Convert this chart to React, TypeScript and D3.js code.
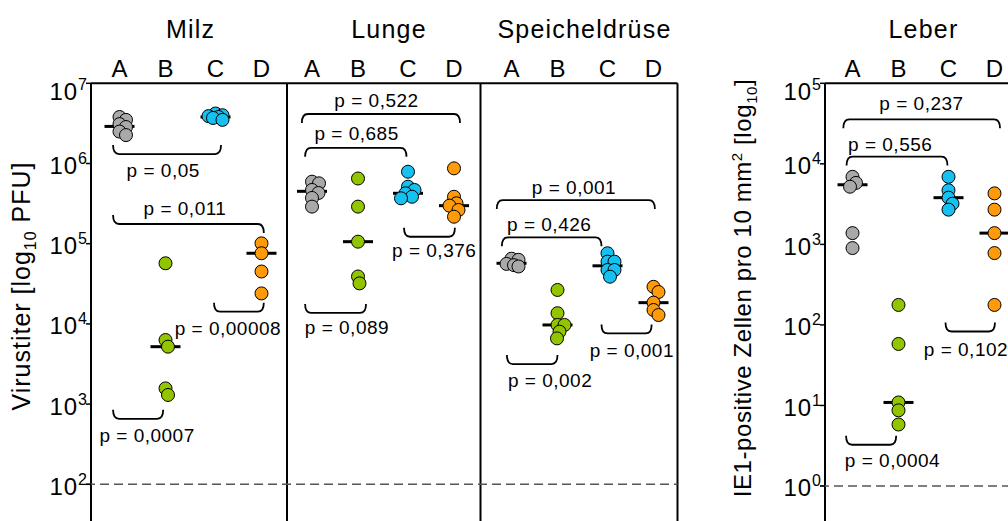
import React from "react";
import * as d3 from "d3";

const categories = ["A", "B", "C", "D"];
const groupColors = ["#a9a9a9", "#92c500", "#16c0f0", "#ff9b0a"];

const leftTicks = [1e2, 1e3, 1e4, 1e5, 1e6, 1e7];
const rightTicks = [1e0, 1e1, 1e2, 1e3, 1e4, 1e5];

// Milz (PFU)
const milzA = [3.8e6, 3.5e6, 3.1e6, 2.85e6, 2.5e6, 2.26e6];
const milzB = [5.7e4, 6.3e3, 5.2e3, 1.57e3, 1.3e3];
const milzC = [4.2e6, 4.0e6, 3.9e6, 3.8e6, 3.7e6, 3.5e6];
const milzD = [1.01e5, 7.6e4, 4.5e4, 2.4e4];
const milzMedians = [2.9e6, 5.2e3, 3.8e6, 7.6e4];

// Lunge
const lungeA = [5.93e5, 5.66e5, 4.68e5, 4.29e5, 3.72e5, 2.9e5];
const lungeB = [6.5e5, 2.9e5, 1.06e5, 3.9e4, 3.2e4];
const lungeC = [7.9e5, 5.14e5, 4.68e5, 4.25e5, 3.85e5, 3.68e5];
const lungeD = [8.7e5, 3.85e5, 3.19e5, 2.98e5, 2.63e5, 2.17e5];
const lungeMedians = [4.5e5, 1.06e5, 4.25e5, 2.98e5];

// Speicheldrüse
const speichelA = [6.5e4, 6.3e4, 5.6e4, 5.4e4, 5.2e4];
const speichelB = [2.65e4, 1.36e4, 9.7e3, 9.7e3, 8.0e3, 6.6e3];
const speichelC = [7.6e4, 5.97e4, 5.97e4, 4.7e4, 4.7e4, 3.88e4];
const speichelD = [2.9e4, 2.5e4, 1.84e4, 1.49e4, 1.29e4];
const speichelMedians = [5.7e4, 9.7e3, 5.3e4, 1.84e4];

// Leber (IE1-positive cells)
const leberA = [6.9e3, 5.8e3, 5.2e3, 1.38e3, 900];
const leberB = [177, 58, 10.9, 8.7, 5.8];
const leberC = [6.9e3, 4.7e3, 3.8e3, 3.2e3, 2.7e3];
const leberD = [4.3e3, 2.7e3, 1.38e3, 780, 177];
const leberMedians = [5.5e3, 10.9, 3.8e3, 1.38e3];

// Brackets: x1/x2/lx in category-index units, bar/ly in data units
type Bracket = { x1: number; x2: number; bar: number; l: "up" | "down"; r: "up" | "down"; label: string; lx: number; ly: number };

const milzBrackets: Bracket[] = [
  { x1: -0.14, x2: 2.12, bar: 1.31e6, l: "up", r: "up", label: "p = 0,05", lx: 0.95, ly: 8.3e5 },
  { x1: -0.14, x2: 3.05, bar: 1.76e5, l: "up", r: "down", label: "p = 0,011", lx: 1.39, ly: 2.79e5 },
  { x1: -0.14, x2: 0.95, bar: 655, l: "up", r: "up", label: "p = 0,0007", lx: 0.6, ly: 412 },
  { x1: 1.97, x2: 3.05, bar: 1.42e4, l: "up", r: "up", label: "p = 0,00008", lx: 2.27, ly: 8.9e3 },
];
const lungeBrackets: Bracket[] = [
  { x1: -0.22, x2: 3.13, bar: 4.14e6, l: "down", r: "down", label: "p = 0,522", lx: 1.37, ly: 6.2e6 },
  { x1: -0.15, x2: 1.97, bar: 1.57e6, l: "down", r: "down", label: "p = 0,685", lx: 0.97, ly: 2.38e6 },
  { x1: 1.92, x2: 3.02, bar: 1.22e5, l: "up", r: "up", label: "p = 0,376", lx: 2.57, ly: 8.3e4 },
  { x1: -0.15, x2: 1.16, bar: 1.37e4, l: "up", r: "up", label: "p = 0,089", lx: 0.76, ly: 9.1e3 },
];
const speichelBrackets: Bracket[] = [
  { x1: -0.32, x2: 3.03, bar: 3.5e5, l: "down", r: "down", label: "p = 0,001", lx: 1.33, ly: 5.1e5 },
  { x1: -0.21, x2: 1.88, bar: 1.2e5, l: "down", r: "down", label: "p = 0,426", lx: 0.82, ly: 1.76e5 },
  { x1: -0.1, x2: 1.0, bar: 3.16e3, l: "up", r: "up", label: "p = 0,002", lx: 0.84, ly: 2.0e3 },
  { x1: 1.88, x2: 2.96, bar: 7.6e3, l: "up", r: "up", label: "p = 0,001", lx: 2.53, ly: 4.7e3 },
];
const leberBrackets: Bracket[] = [
  { x1: -0.2, x2: 3.12, bar: 3.57e4, l: "down", r: "down", label: "p = 0,237", lx: 1.46, ly: 5.65e4 },
  { x1: -0.13, x2: 1.98, bar: 1.23e4, l: "down", r: "down", label: "p = 0,556", lx: 0.82, ly: 1.75e4 },
  { x1: -0.14, x2: 0.95, bar: 3.25, l: "up", r: "up", label: "p = 0,0004", lx: 0.87, ly: 2.06 },
  { x1: 1.94, x2: 3.01, bar: 82.8, l: "up", r: "up", label: "p = 0,102", lx: 2.38, ly: 49.1 },
];

const panels = [
  { title: "Milz", side: "left", groups: [milzA, milzB, milzC, milzD], medians: milzMedians, brackets: milzBrackets },
  { title: "Lunge", side: "left", groups: [lungeA, lungeB, lungeC, lungeD], medians: lungeMedians, brackets: lungeBrackets },
  { title: "Speicheldrüse", side: "left", groups: [speichelA, speichelB, speichelC, speichelD], medians: speichelMedians, brackets: speichelBrackets },
  { title: "Leber", side: "right", groups: [leberA, leberB, leberC, leberD], medians: leberMedians, brackets: leberBrackets },
];

// layout
const W = 1008, H = 521;
const TOP = 83.3;
const FONT = "'Liberation Sans', Arial, Helvetica, sans-serif";
const panelEdges = [91, 287, 480.5, 677.5];
const rightAxisX = 825;
const panelA = [119.5, 312, 511.5, 852.5];
const catOffsets = [0, 46, 96, 142];
const titleNudge = [0, 6, 2, 0];
const R = 6.5;

const yLeft = d3.scaleLog().domain([1e2, 1e7]).range([484.3, TOP]);
const yRight = d3.scaleLog().domain([1e0, 1e5]).range([486, TOP]);

// compact beeswarm: points may overlap, horizontal spread is limited
function swarm(values: number[], cx: number, y: (v: number) => number, minDist: number, maxOff: number) {
  const placed: { x: number; y: number }[] = [];
  const order = values.map((v, i) => ({ v, i })).sort((a, b) => b.v - a.v);
  const out: { x: number; y: number }[] = new Array(values.length);
  for (const { v, i } of order) {
    const py = y(v);
    let best = cx;
    let bestScore = -Infinity;
    const steps = Math.round(maxOff / 0.5);
    for (let k = 0; k <= steps * 2; k++) {
      const off = k === 0 ? 0 : (k % 2 === 1 ? 1 : -1) * Math.ceil(k / 2) * 0.5;
      const px = cx + off;
      const dmin = placed.length ? Math.min(...placed.map((p) => Math.hypot(p.x - px, p.y - py))) : Infinity;
      if (dmin >= minDist) {
        best = px;
        break;
      }
      if (dmin > bestScore + 0.01) {
        bestScore = dmin;
        best = px;
      }
    }
    const pt = { x: best, y: py };
    placed.push(pt);
    out[i] = pt;
  }
  return out;
}

function bracketPath(b: Bracket, x: (t: number) => number, y: (v: number) => number) {
  const x1 = x(b.x1), x2 = x(b.x2), yb = y(b.bar);
  const h = 9, c = 6;
  const dl = b.l === "up" ? -h : h;
  const dr = b.r === "up" ? -h : h;
  return `M${x1},${yb + dl} Q${x1},${yb} ${x1 + c},${yb} L${x2 - c},${yb} Q${x2},${yb} ${x2},${yb + dr}`;
}

function TickLabel({ x, y, exp }: { x: number; y: number; exp: number }) {
  return (
    <text x={x} y={y} textAnchor="end" fontSize={24} fontFamily={FONT} dy="0.35em" letterSpacing={1}>
      10<tspan fontSize={16} dy={-10}>{exp}</tspan>
    </text>
  );
}

export default function App() {
  const dashY = yLeft(1e2);
  const dashYR = yRight(1e0);
  return (
    <svg width={W} height={H} style={{ position: "absolute", left: 0, top: 0, background: "#fff" }} fontFamily={FONT}>
      {/* left frame */}
      <line x1={panelEdges[0]} x2={panelEdges[3]} y1={TOP} y2={TOP} stroke="#000" strokeWidth={2} />
      {panelEdges.map((x, i) => (
        <line key={i} x1={x} x2={x} y1={TOP} y2={H} stroke="#000" strokeWidth={2} />
      ))}
      {/* right frame */}
      <line x1={rightAxisX} x2={W} y1={TOP} y2={TOP} stroke="#000" strokeWidth={2} />
      <line x1={rightAxisX} x2={rightAxisX} y1={TOP} y2={H} stroke="#000" strokeWidth={2} />

      {/* dashed detection limits */}
      <line x1={panelEdges[0] - 5} x2={panelEdges[3]} y1={dashY} y2={dashY} stroke="#555" strokeWidth={1.5} strokeDasharray="9,5" />
      <line x1={rightAxisX - 5} x2={W} y1={dashYR} y2={dashYR} stroke="#555" strokeWidth={1.5} strokeDasharray="9,5" />

      {/* ticks */}
      {leftTicks.map((t, i) => (
        <g key={"lt" + i}>
          <line x1={panelEdges[0] - 5} x2={panelEdges[0]} y1={yLeft(t)} y2={yLeft(t)} stroke="#000" strokeWidth={1.5} />
          <TickLabel x={88} y={yLeft(t) + (i === leftTicks.length - 1 ? 8 : 2)} exp={Math.round(Math.log10(t))} />
        </g>
      ))}
      {rightTicks.map((t, i) => (
        <g key={"rt" + i}>
          <line x1={rightAxisX - 5} x2={rightAxisX} y1={yRight(t)} y2={yRight(t)} stroke="#000" strokeWidth={1.5} />
          <TickLabel x={822} y={yRight(t) + (i === rightTicks.length - 1 ? 8 : 2)} exp={Math.round(Math.log10(t))} />
        </g>
      ))}

      {/* axis titles */}
      <text transform="translate(30,286) rotate(-90)" textAnchor="middle" fontSize={25} letterSpacing={1}>
        Virustiter [log<tspan fontSize={16} dy={6}>10</tspan>
        <tspan dy={-6}> PFU]</tspan>
      </text>
      <text transform="translate(751,288) rotate(-90)" textAnchor="middle" fontSize={24} letterSpacing={0.6}>
        IE1-positive Zellen pro 10 mm<tspan fontSize={15} dy={-9}>2</tspan>
        <tspan dy={9}> [log</tspan>
        <tspan fontSize={15} dy={6}>10</tspan>
        <tspan dy={-6}>]</tspan>
      </text>

      {panels.map((p, pi) => {
        const y = p.side === "left" ? yLeft : yRight;
        const a = panelA[pi];
        const xc = d3.scaleLinear().domain([0, 1, 2, 3]).range(catOffsets.map((o) => a + o));
        return (
          <g key={p.title}>
            <text x={xc(1.5) + titleNudge[pi]} y={38} textAnchor="middle" fontSize={25} letterSpacing={1.2}>
              {p.title}
            </text>
            {categories.map((c, ci) => (
              <text key={c} x={xc(ci)} y={77} textAnchor="middle" fontSize={24}>
                {c}
              </text>
            ))}
            {p.brackets.map((b, bi) => (
              <g key={"b" + bi}>
                <path d={bracketPath(b, xc, y)} fill="none" stroke="#000" strokeWidth={1.8} />
                <text x={xc(b.lx)} y={y(b.ly)} dy="0.35em" textAnchor="middle" fontSize={19} letterSpacing={0.5}>
                  {b.label}
                </text>
              </g>
            ))}
            {p.groups.map((vals, gi) => {
              const cx = xc(gi);
              const pts = swarm(vals, cx, y, 7, 7);
              const my = y(p.medians[gi]);
              return (
                <g key={"g" + gi}>
                  <line x1={cx - 15} x2={cx + 15} y1={my} y2={my} stroke="#000" strokeWidth={3} />
                  {pts.map((pt, k) => (
                    <circle key={k} cx={pt.x} cy={pt.y} r={R} fill={groupColors[gi]} stroke="#000" strokeWidth={1} />
                  ))}
                </g>
              );
            })}
          </g>
        );
      })}
    </svg>
  );
}
